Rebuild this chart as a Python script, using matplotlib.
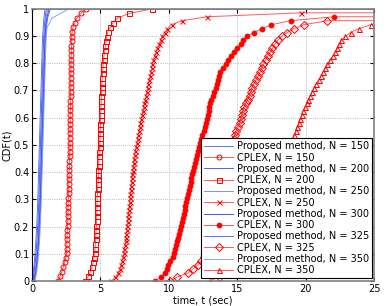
import numpy as np
import matplotlib.pyplot as plt

# network sizes
sizes = [150, 200, 250, 300, 325, 350]

# solve times (sec) of the proposed method, one list per N
prop_150 = [0.02, 0.10, 0.17, 0.22, 0.27, 0.31, 0.35, 0.38, 0.41, 0.43, 0.45, 0.47, 0.49, 0.51, 0.53,
            0.55, 0.57, 0.59, 0.61, 0.63, 0.65, 0.67, 0.69, 0.71, 0.73, 0.75, 0.78, 0.82, 0.87, 0.95]
prop_200 = [0.06, 0.16, 0.24, 0.30, 0.35, 0.39, 0.43, 0.46, 0.49, 0.51, 0.53, 0.55, 0.57, 0.59, 0.61,
            0.63, 0.65, 0.67, 0.69, 0.71, 0.73, 0.75, 0.77, 0.79, 0.81, 0.83, 0.86, 0.90, 0.96, 1.05]
prop_250 = [0.10, 0.22, 0.30, 0.36, 0.41, 0.45, 0.48, 0.51, 0.54, 0.56, 0.58, 0.60, 0.62, 0.64, 0.66,
            0.68, 0.70, 0.72, 0.74, 0.76, 0.78, 0.80, 0.82, 0.84, 0.86, 0.88, 0.91, 0.95, 1.02, 1.15]
prop_300 = [0.14, 0.27, 0.35, 0.41, 0.46, 0.50, 0.53, 0.56, 0.59, 0.61, 0.63, 0.65, 0.67, 0.69, 0.71,
            0.73, 0.75, 0.77, 0.79, 0.81, 0.83, 0.85, 0.87, 0.89, 0.91, 0.93, 0.96, 1.00, 1.08, 1.25]
prop_325 = [0.18, 0.31, 0.39, 0.45, 0.50, 0.54, 0.57, 0.60, 0.63, 0.65, 0.67, 0.69, 0.71, 0.73, 0.75,
            0.77, 0.79, 0.81, 0.83, 0.85, 0.87, 0.89, 0.91, 0.93, 0.95, 0.97, 1.00, 1.05, 1.14, 1.35]
prop_350 = [0.22, 0.35, 0.43, 0.49, 0.54, 0.58, 0.61, 0.64, 0.67, 0.69, 0.71, 0.73, 0.75, 0.77, 0.79,
            0.81, 0.83, 0.85, 0.87, 0.89, 0.91, 0.93, 0.95, 0.97, 0.99, 1.01, 1.04, 1.10, 1.45, 2.70]

# solve times (sec) of CPLEX, only the runs that finished
cplex_150 = [1.92, 2.05, 2.18, 2.29, 2.38, 2.46, 2.53, 2.54, 2.55, 2.56, 2.57, 2.59, 2.60, 2.61, 2.62,
             2.63, 2.64, 2.65, 2.66, 2.67, 2.68, 2.69, 2.70, 2.71, 2.72, 2.73, 2.74, 2.75, 2.76, 2.77,
             2.77, 2.78, 2.78, 2.79, 2.79, 2.79, 2.80, 2.80, 2.81, 2.81, 2.82, 2.82, 2.83, 2.83, 2.84,
             2.84, 2.85, 2.85, 2.86, 2.87, 2.88, 2.88, 2.89, 2.90, 2.94, 2.99, 3.13, 3.28, 3.55, 3.94]
cplex_200 = [3.87, 4.10, 4.27, 4.38, 4.47, 4.52, 4.57, 4.61, 4.63, 4.65, 4.67, 4.69, 4.71, 4.72, 4.73,
             4.74, 4.75, 4.76, 4.77, 4.78, 4.80, 4.82, 4.84, 4.85, 4.86, 4.87, 4.88, 4.89, 4.91, 4.94,
             4.96, 4.97, 4.98, 4.99, 5.00, 5.01, 5.02, 5.03, 5.05, 5.06, 5.07, 5.09, 5.10, 5.12, 5.14,
             5.16, 5.18, 5.20, 5.23, 5.27, 5.32, 5.37, 5.41, 5.45, 5.55, 5.70, 5.92, 6.25, 7.10, 8.80]
cplex_250 = [5.80, 6.10, 6.30, 6.40, 6.50, 6.58, 6.66, 6.71, 6.76, 6.80, 6.84, 6.87, 6.90, 6.93, 6.96,
             6.99, 7.02, 7.05, 7.08, 7.11, 7.14, 7.16, 7.19, 7.22, 7.24, 7.28, 7.31, 7.34, 7.37, 7.40,
             7.43, 7.46, 7.50, 7.55, 7.61, 7.67, 7.72, 7.77, 7.82, 7.87, 7.93, 7.98, 8.04, 8.10, 8.16,
             8.22, 8.28, 8.34, 8.39, 8.45, 8.51, 8.57, 8.63, 8.68, 8.74, 8.80, 8.88, 8.97, 9.06, 9.16,
             9.28, 9.40, 9.50, 9.70, 9.90, 10.2, 11.0, 12.8, 19.7]
cplex_300 = [9.00, 9.45, 9.75, 9.85, 9.97, 10.12, 10.28, 10.40, 10.48, 10.55, 10.62, 10.70, 10.77, 10.84,
             10.91, 10.97, 11.03, 11.09, 11.15, 11.20, 11.26, 11.32, 11.40, 11.47, 11.53, 11.59, 11.65,
             11.71, 11.78, 11.85, 11.93, 12.00, 12.08, 12.15, 12.22, 12.28, 12.38, 12.46, 12.55, 12.64,
             12.73, 12.82, 12.88, 12.93, 12.97, 13.02, 13.12, 13.22, 13.33, 13.42, 13.50, 13.58, 13.65,
             13.75, 13.95, 14.15, 14.35, 14.55, 14.75, 15.00, 15.25, 15.45, 15.70, 16.20, 16.80, 17.50,
             18.90, 22.10]
cplex_325 = [10.10, 10.60, 11.40, 11.75, 12.10, 12.35, 12.55, 12.70, 12.80, 12.90, 13.02, 13.12, 13.22,
             13.30, 13.37, 13.43, 13.50, 13.56, 13.62, 13.68, 13.74, 13.80, 13.86, 13.92, 13.99, 14.05,
             14.12, 14.19, 14.26, 14.33, 14.40, 14.46, 14.52, 14.58, 14.63, 14.68, 14.74, 14.82, 14.92,
             15.05, 15.18, 15.27, 15.33, 15.40, 15.50, 15.62, 15.76, 15.90, 16.00, 16.08, 16.22, 16.38,
             16.55, 16.68, 16.80, 16.92, 17.08, 17.22, 17.40, 17.58, 17.75, 17.95, 18.25, 18.65, 19.15,
             19.90, 21.60]
cplex_350 = [13.00, 13.65, 14.25, 14.70, 15.10, 15.35, 15.60, 15.80, 15.97, 16.13, 16.28, 16.42, 16.56,
             16.69, 16.82, 16.93, 17.04, 17.14, 17.24, 17.34, 17.44, 17.53, 17.63, 17.73, 17.83, 17.93,
             18.03, 18.13, 18.23, 18.33, 18.43, 18.53, 18.63, 18.74, 18.85, 18.96, 19.07, 19.18, 19.29,
             19.40, 19.51, 19.62, 19.72, 19.82, 19.95, 20.08, 20.21, 20.34, 20.47, 20.61, 20.78, 20.95,
             21.12, 21.28, 21.45, 21.60, 21.78, 21.97, 22.17, 22.33, 22.45, 22.62, 22.90, 23.30, 23.90,
             24.80, 26.00]

# total number of runs per case (CPLEX runs beyond the limit never finish)
runs_prop = [30, 30, 30, 30, 30, 30]
runs_cplex = [60, 60, 70, 70, 70, 70]
time_limit = 30

prop_times = [prop_150, prop_200, prop_250, prop_300, prop_325, prop_350]
cplex_times = [cplex_150, cplex_200, cplex_250, cplex_300, cplex_325, cplex_350]
markers = ['o', 's', 'x', 'o', 'D', '^']
filled = [False, False, False, True, False, False]
prop_colors = ['#4a62f2', '#2f4cec', '#6a80f5', '#2440e6', '#3f5af0', '#7f92f7']


def ecdf(t, runs):
    t = np.asarray(t)
    f = np.arange(len(t)) / (runs - 1)
    # hold the last value up to the time limit
    return np.append(t, time_limit), np.append(f, f[-1])


fig = plt.figure(figsize=(3.9, 3.06), dpi=100)
ax = fig.add_axes([0.082, 0.082, 0.877, 0.889])

for i, n in enumerate(sizes):
    x, y = ecdf(prop_times[i], runs_prop[i])
    ax.plot(x, y, '-', color=prop_colors[i], lw=0.6, label='Proposed method, N = %d' % n)
    x, y = ecdf(cplex_times[i], runs_cplex[i])
    ms = 3.5 if filled[i] else 3.6
    ax.plot(x, y, '-', color='#ff5a5a', lw=0.7, marker=markers[i],
            markevery=list(range(len(x) - 1)), ms=ms, mew=0.7,
            mec='#ff0000', mfc='#ff0000' if filled[i] else 'none',
            label='CPLEX, N = %d' % n)

ax.set_xlim(0, 25)
ax.set_ylim(0, 1)
ax.set_xticks([0, 5, 10, 15, 20, 25])
ax.set_yticks(np.arange(0, 1.01, 0.1))
ax.set_yticklabels(['0', '0.1', '0.2', '0.3', '0.4', '0.5', '0.6', '0.7', '0.8', '0.9', '1'])
ax.tick_params(direction='in', length=3, labelsize=7, top=True, right=True, pad=2)
ax.grid(True, linestyle=':', color='#a0a0a0', lw=0.6)
for s in ['top', 'bottom', 'right']:
    ax.spines[s].set_color('#808080')
    ax.spines[s].set_linewidth(1.2)
ax.spines['left'].set_color('black')
ax.spines['left'].set_linewidth(0.8)

ax.set_xlabel('time, t (sec)', fontsize=7, labelpad=1)
ax.set_ylabel('CDF(t)', fontsize=7, labelpad=1)

leg = ax.legend(loc='lower right', bbox_to_anchor=(0.995, 0.01), fontsize=7, fancybox=False,
                framealpha=1, edgecolor='black', handlelength=3.0, handletextpad=0.4,
                labelspacing=0.13, borderpad=0.3, borderaxespad=0)
leg.get_frame().set_linewidth(0.8)

fig.savefig('out.png', dpi=100)
